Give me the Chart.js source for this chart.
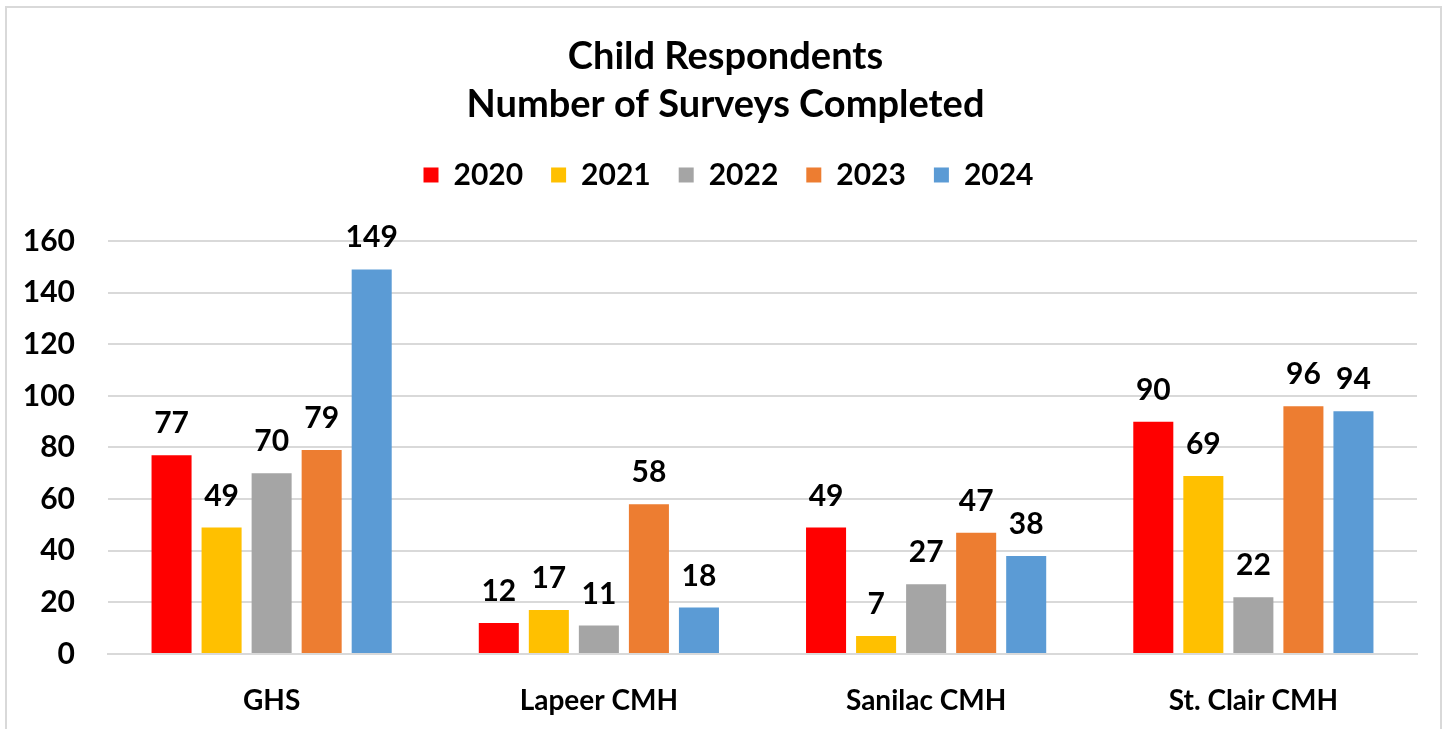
<!DOCTYPE html>
<html><head><meta charset="utf-8">
<script src="https://cdn.jsdelivr.net/npm/chart.js@4"></script>
<style>
html,body{margin:0;padding:0;background:#fff;overflow:hidden}
#wrap{position:relative;width:1451px;height:729px}
#frame{position:absolute;left:5px;top:6px;width:1437px;height:740px;border:2px solid #d9d9d9;box-sizing:border-box;pointer-events:none}
canvas{position:absolute;left:0;top:0}
</style></head><body>
<div id="wrap"><canvas id="c" width="1451" height="729"></canvas><div id="frame"></div></div>
<script>
const categories = ["GHS", "Lapeer CMH", "Sanilac CMH", "St. Clair CMH"];
const seriesNames = ["2020", "2021", "2022", "2023", "2024"];
const v2020 = [77, 12, 49, 90];
const v2021 = [49, 17, 7, 69];
const v2022 = [70, 11, 27, 22];
const v2023 = [79, 58, 47, 96];
const v2024 = [149, 18, 38, 94];
const yTicks = [0, 20, 40, 60, 80, 100, 120, 140, 160];
const colors = ["#FF0000", "#FFC000", "#A5A5A5", "#ED7D31", "#5B9BD5"];
const titleLines = ["Child Respondents", "Number of Surveys Completed"];

const FONT = "Lato, 'Open Sans', sans-serif";
const values = [v2020, v2021, v2022, v2023, v2024];

const labelPlugin = {
  id: 'barLabels',
  afterDatasetsDraw(chart) {
    const ctx = chart.ctx;
    ctx.save();
    ctx.font = "bold 30px " + FONT;
    ctx.fillStyle = "#000";
    ctx.textAlign = "center";
    ctx.textBaseline = "alphabetic";
    chart.data.datasets.forEach((ds, i) => {
      const meta = chart.getDatasetMeta(i);
      meta.data.forEach((bar, j) => {
        ctx.fillText(String(ds.data[j]), bar.x, bar.y - 22);
      });
    });
    ctx.restore();
  }
};

function shiftDraw(box, dx) {
  const origDraw = box.draw;
  box.draw = function () {
    const ctx = this.ctx;
    ctx.save();
    ctx.translate(dx, 0);
    origDraw.apply(this, arguments);
    ctx.restore();
  };
}

const boxPatchPlugin = {
  id: 'boxPatch',
  beforeLayout(chart) {
    const lg = chart.legend;
    if (lg && !lg._patched) {
      const origFit = lg.fit;
      lg.fit = function () { origFit.call(this); this.height += 41; };
      shiftDraw(lg, 15);
      lg._patched = true;
    }
    const tt = chart.titleBlock;
    if (tt && !tt._patched) {
      shiftDraw(tt, 12);
      tt._patched = true;
    }
  }
};

new Chart(document.getElementById('c'), {
  type: 'bar',
  data: {
    labels: categories,
    datasets: seriesNames.map((n, i) => ({
      label: n,
      data: values[i],
      backgroundColor: colors[i],
      borderWidth: 0,
      categoryPercentage: 0.7645,
      barPercentage: 0.8
    }))
  },
  options: {
    responsive: false,
    animation: false,
    layout: { padding: { top: 33, right: 34, left: 10, bottom: 0 } },
    plugins: {
      title: {
        display: true,
        text: titleLines,
        color: "#000",
        font: { family: FONT, size: 38, weight: 'bold', lineHeight: 1.263 },
        padding: { top: 0, bottom: 3 }
      },
      legend: {
        display: true,
        position: 'top',
        labels: {
          color: "#000",
          font: { family: FONT, size: 30, weight: 'bold' },
          boxWidth: 15,
          boxHeight: 15,
          padding: 28
        }
      },
      tooltip: { enabled: false }
    },
    scales: {
      x: {
        grid: { display: false, drawTicks: false },
        border: { display: true, color: "#D9D9D9", width: 2 },
        ticks: { color: "#000", font: { family: FONT, size: 28, weight: 'bold' }, padding: 30 },
        afterFit(scale) { scale.height = 75; }
      },
      y: {
        min: 0, max: 160,
        afterBuildTicks(scale) { scale.ticks = yTicks.map(v => ({ value: v })); },
        grid: { color: "#D9D9D9", lineWidth: 2, drawTicks: false },
        border: { display: false },
        ticks: { color: "#000", font: { family: FONT, size: 30, weight: 'bold' }, padding: 33 },
        afterFit(scale) { scale.width = 98; }
      }
    }
  },
  plugins: [labelPlugin, boxPatchPlugin]
});
</script>
</body></html>
